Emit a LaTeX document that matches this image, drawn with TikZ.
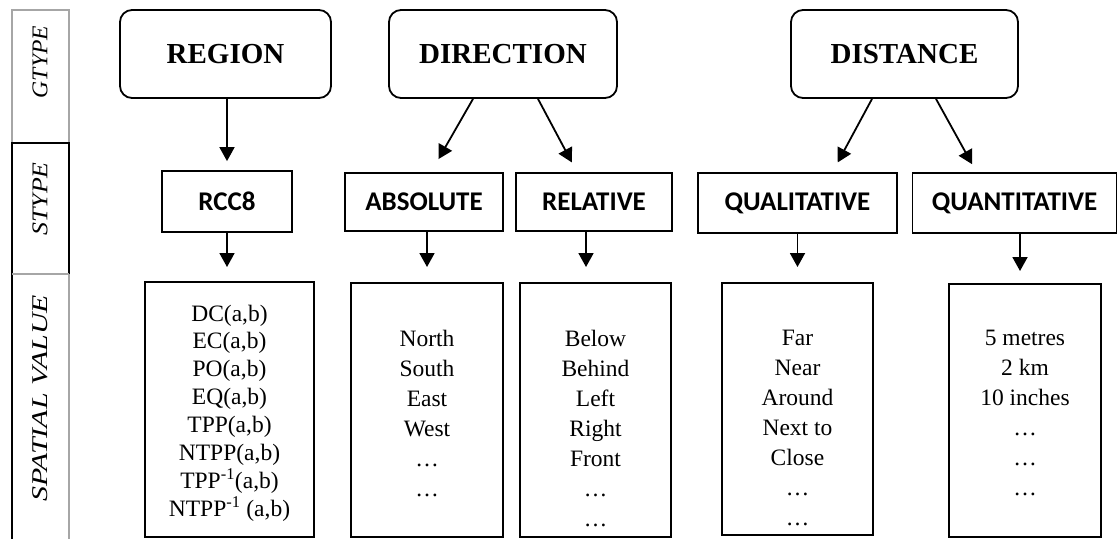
\documentclass[tikz,border=0pt]{standalone}
\usepackage{fontspec}
\setmainfont{Liberation Serif}
\newfontfamily\labelsans{Carlito}
\usetikzlibrary{arrows.meta,calc}

\tikzset{
  gbox/.style={draw, line width=1.8pt, rounded corners=12pt, inner sep=0pt,
    font=\fontsize{29}{33}\selectfont\bfseries},
  sbox/.style={draw, line width=1.8pt, inner sep=0pt,
    font=\labelsans\fontsize{27}{31}\selectfont\bfseries},
  vbox/.style={draw, line width=2pt, inner sep=0pt},
  vtext/.style={align=center, anchor=north, inner sep=0pt,
    font=\fontsize{23.5}{30}\selectfont},
  rtext/.style={align=center, anchor=north, inner sep=0pt,
    font=\fontsize{23.5}{27.9}\selectfont},
  link/.style={line width=1.8pt, -{Triangle[length=14pt,width=15pt]}},
  rowlabel/.style={rotate=90, inner sep=0pt, font=\itshape\fontsize{22.5}{26}\selectfont},
  cell/.style={line width=1.3pt}
}

\begin{document}
\begin{tikzpicture}[x=1pt,y=-1pt]
\useasboundingbox (0,0) rectangle (1118,539);

% row headings on the left
\draw[cell, gray!70] (12,10) rectangle (69,143);
\draw[cell, black] (12,143) rectangle (69,274);
\draw[cell, gray!70] (69,274) -- (69,539);
\draw[cell, black] (12,274) -- (12,539);
\draw[cell, gray!70] (12,274) -- (69,274);
\node[rowlabel] (lg) at (40,62) {\scalebox{1.05}[1]{GTYPE}};
\node[rowlabel] (ls) at (40,199) {\scalebox{1.15}[1]{STYPE}};
\node[rowlabel] (lv) at (40,398) {\scalebox{1.33}[1]{SPATIAL VALUE}};

% general types
\node[gbox, minimum width=211pt, minimum height=88pt] (region) at (225.5,54) {REGION};
\node[gbox, minimum width=228pt, minimum height=88pt] (direction) at (503,54) {DIRECTION};
\node[gbox, minimum width=227pt, minimum height=88pt] (distance) at (904.5,54) {DISTANCE};

% specific types
\node[sbox, minimum width=130pt, minimum height=61pt] (rcc) at (227,201.5) {RCC8};
\node[sbox, minimum width=158pt, minimum height=58pt] (absolute) at (424,202) {ABSOLUTE};
\node[sbox, minimum width=156pt, minimum height=58pt] (relative) at (594,202) {RELATIVE};
\node[sbox, minimum width=199pt, minimum height=60pt] (qualitative) at (797.5,203) {QUALITATIVE};
\node[sbox, minimum width=204pt, minimum height=60pt] (quantitative) at (1014.5,203) {QUANTITATIVE};

% value boxes
\node[vbox, minimum width=169pt, minimum height=255pt] (rccv) at (229.5,409.5) {};
\node[vbox, minimum width=152pt, minimum height=254pt] (absv) at (427,410) {};
\node[vbox, minimum width=151pt, minimum height=254pt] (relv) at (595.5,410) {};
\node[vbox, minimum width=151pt, minimum height=252pt] (qualv) at (797.5,409) {};
\node[vbox, minimum width=152pt, minimum height=253pt] (quantv) at (1025,410.5) {};

% values
\node[rtext] (rcct) at (229.5,304.5) {DC(a,b)\\EC(a,b)\\PO(a,b)\\EQ(a,b)\\TPP(a,b)\\NTPP(a,b)\\TPP\textsuperscript{-1}(a,b)\\NTPP\textsuperscript{-1} (a,b)};
\node[vtext] (abst) at (427,330) {North\\South\\East\\West\\\ldots\\\ldots};
\node[vtext] (relt) at (595.5,330) {Below\\Behind\\Left\\Right\\Front\\\ldots\\\ldots};
\node[vtext] (qualt) at (797.5,330) {Far\\Near\\Around\\Next to\\Close\\\ldots\\\ldots};
\node[vtext] (quantt) at (1025,330) {5 metres\\2 km\\10 inches\\\ldots\\\ldots\\\ldots};

% general type to specific type
\draw[link, shorten >=9pt] (region.south -| rcc.north) -- (rcc.north);
\draw[link, shorten >=15pt] ($(direction.south)+(-30,0)$) -- ($(absolute.north)+(7,0)$);
\draw[link, shorten >=11pt] ($(direction.south)+(35,0)$) -- ($(relative.north)+(-17,0)$);
\draw[link, shorten >=11pt] ($(distance.south)+(-32.5,0)$) -- ($(qualitative.north)+(35,0)$);
\draw[link, shorten >=9pt] ($(distance.south)+(31.5,0)$) -- ($(quantitative.north)+(-38,0)$);

% specific type to values
\draw[link, shorten >=14pt] (rcc.south) -- (rcc.south |- rccv.north);
\draw[link, shorten >=15pt] (absv.north |- absolute.south) -- (absv.north);
\draw[link, shorten >=15pt] (relative.south -| 586,0) -- (586,0 |- relv.north);
\draw[link, shorten >=15pt] (qualitative.south) -- (qualitative.south |- qualv.north);
\draw[link, shorten >=12pt] ($(quantitative.south)+(5.5,0)$) -- ($(quantitative.south |- quantv.north)+(5.5,0)$);
\end{tikzpicture}
\end{document}
